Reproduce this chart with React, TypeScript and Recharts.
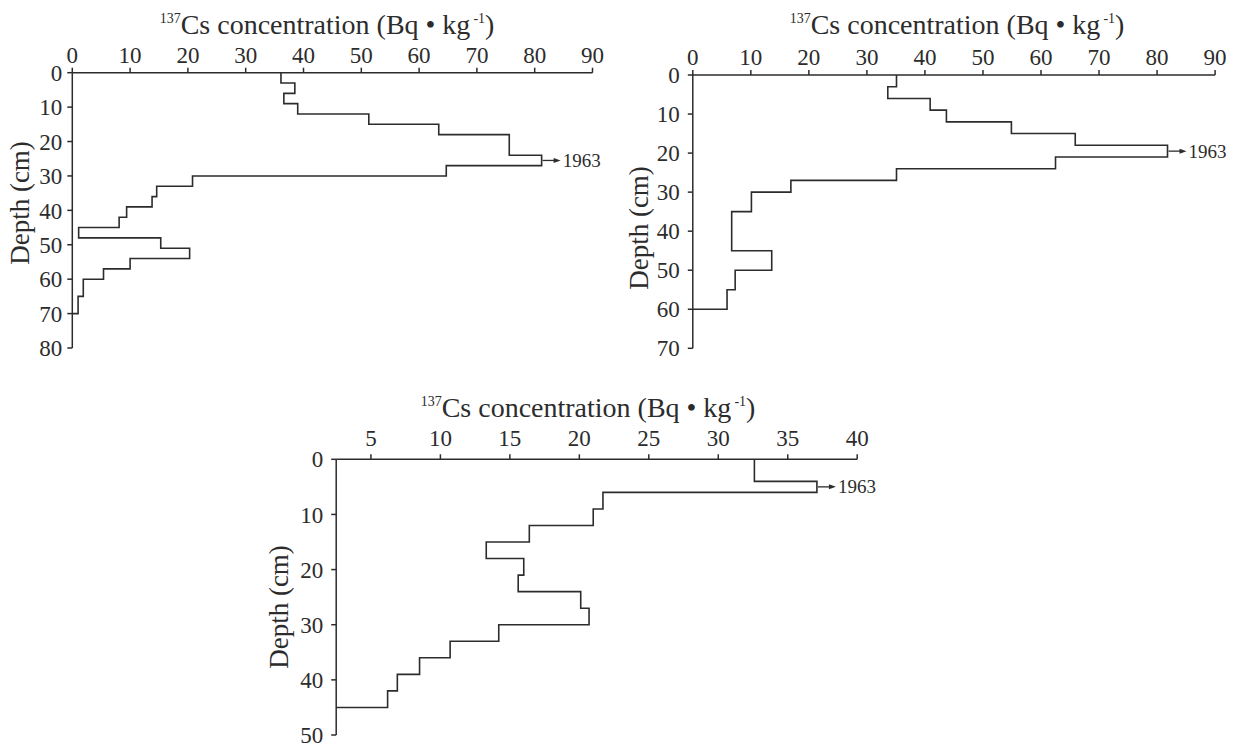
import React from 'react';
import { LineChart, Line, XAxis, YAxis, ReferenceDot } from 'recharts';

// core A: depth interval boundaries (cm) and 137Cs per interval (Bq/kg)
const depthA = [0, 3, 6, 9, 12, 15, 18, 24, 27, 30, 33, 36, 39, 42, 45, 48, 51, 54, 57, 60, 65, 70];
const concA = [36.1, 38.5, 36.6, 39.0, 51.3, 63.4, 75.6, 81.2, 64.7, 20.8, 14.6, 13.8, 9.4, 8.1, 1.1, 15.3, 20.3, 10.0, 5.4, 1.9, 1.0];
const floorA = 0;
const xTicksA = [0, 10, 20, 30, 40, 50, 60, 70, 80, 90];
const yTicksA = [0, 10, 20, 30, 40, 50, 60, 70, 80];

// core B
const depthB = [0, 3, 6, 9, 12, 15, 18, 21, 24, 27, 30, 35, 45, 50, 55, 60];
const concB = [35.1, 33.6, 40.9, 43.7, 54.9, 65.9, 81.8, 62.5, 35.1, 16.9, 10.1, 6.7, 13.6, 7.3, 5.9];
const floorB = 0;
const xTicksB = [0, 10, 20, 30, 40, 50, 60, 70, 80, 90];
const yTicksB = [0, 10, 20, 30, 40, 50, 60, 70];

// core C
const depthC = [0, 4, 6, 9, 12, 15, 18, 21, 24, 27, 30, 33, 36, 39, 42, 45];
const concC = [32.6, 37.1, 21.7, 21.0, 16.4, 13.3, 16.0, 15.6, 20.1, 20.7, 14.2, 10.7, 8.5, 6.9, 6.2];
const floorC = 2.5;
const xTicksC = [5, 10, 15, 20, 25, 30, 35, 40];
const yTicksC = [0, 10, 20, 30, 40, 50];

const markerYear = '1963';
const depthTitle = 'Depth (cm)';

const INK = '#2c2c2c';
const FONT = '"Liberation Serif", "Times New Roman", serif';
const AXIS_H = 40;
const AXIS_W = 40;

// turn interval values into a stepped depth profile
function toProfile(depths: number[], conc: number[], floor: number) {
    const pts: { c: number; d: number }[] = [];
    conc.forEach((v, i) => {
        pts.push({ c: v, d: depths[i] });
        pts.push({ c: v, d: depths[i + 1] });
    });
    pts.push({ c: floor, d: depths[depths.length - 1] });
    return pts;
}

const TitleText = ({ x, y }: { x: number; y: number }) => (
    <text x={x} y={y} textAnchor="middle" fontSize={28} fill={INK} fontFamily={FONT}>
        <tspan fontSize={14} dy={-11}>137</tspan>
        <tspan dy={11}>Cs concentration (Bq • kg</tspan>
        <tspan fontSize={14} dx={3} dy={-11}>-1</tspan>
        <tspan dy={11}>)</tspan>
    </text>
);

interface Box { left: number; top: number; width: number; height: number }
interface Plot { left: number; right: number; top: number; bottom: number }

interface PanelProps {
    depths: number[];
    conc: number[];
    floor: number;
    xDomain: [number, number];
    xTicks: number[];
    yTicks: number[];
    box: Box;
    plot: Plot;
    title: { x: number; y: number };
    ylab: { x: number; y: number };
    xTickGap: number;
    yTickGap: number;
}

function ProfilePanel({ depths, conc, floor, xDomain, xTicks, yTicks, box, plot, title, ylab, xTickGap, yTickGap }: PanelProps) {
    const data = toProfile(depths, conc, floor);
    const peak = Math.max(...conc);
    const pi = conc.indexOf(peak);
    const peakDepth = (depths[pi] + depths[pi + 1]) / 2;

    const margin = {
        top: plot.top - box.top - AXIS_H,
        left: plot.left - box.left - AXIS_W,
        right: box.left + box.width - plot.right,
        bottom: box.top + box.height - plot.bottom,
    };

    return (
        <div style={{ position: 'absolute', left: box.left, top: box.top }}>
            <LineChart width={box.width} height={box.height} data={data} layout="vertical" margin={margin} style={{ fontFamily: FONT }}>
                <XAxis
                    type="number"
                    orientation="top"
                    domain={xDomain}
                    ticks={xTicks}
                    interval={0}
                    height={AXIS_H}
                    tickSize={5}
                    tickMargin={xTickGap}
                    axisLine={{ stroke: INK, strokeWidth: 1.5 }}
                    tickLine={{ stroke: INK, strokeWidth: 1.5 }}
                    tick={{ fill: INK, fontSize: 23, fontFamily: FONT }}
                    label={() => <TitleText x={title.x - box.left} y={title.y - box.top} />}
                />
                <YAxis
                    type="number"
                    dataKey="d"
                    domain={[0, yTicks[yTicks.length - 1]]}
                    ticks={yTicks}
                    interval={0}
                    width={AXIS_W}
                    tickSize={5}
                    tickMargin={yTickGap}
                    axisLine={{ stroke: INK, strokeWidth: 1.5 }}
                    tickLine={{ stroke: INK, strokeWidth: 1.5 }}
                    tick={{ fill: INK, fontSize: 23, fontFamily: FONT }}
                    label={() => (
                        <text
                            x={ylab.x - box.left}
                            y={ylab.y - box.top}
                            transform={`rotate(-90 ${ylab.x - box.left} ${ylab.y - box.top})`}
                            textAnchor="middle"
                            dominantBaseline="central"
                            fontSize={27}
                            fill={INK}
                            fontFamily={FONT}
                        >
                            {depthTitle}
                        </text>
                    )}
                />
                <Line
                    type="linear"
                    dataKey="c"
                    stroke={INK}
                    strokeWidth={1.6}
                    dot={false}
                    activeDot={false}
                    isAnimationActive={false}
                />
                <ReferenceDot
                    x={peak}
                    y={peakDepth}
                    ifOverflow="visible"
                    shape={(p: any) => (
                        <g>
                            <line x1={p.cx + 1} y1={p.cy} x2={p.cx + 14} y2={p.cy} stroke={INK} strokeWidth={1.3} />
                            <path d={`M${p.cx + 12},${p.cy - 2.5} L${p.cx + 19},${p.cy} L${p.cx + 12},${p.cy + 2.5} Z`} fill={INK} />
                            <text x={p.cx + 21} y={p.cy + 6.5} fontSize={19} fill={INK} fontFamily={FONT}>
                                {markerYear}
                            </text>
                        </g>
                    )}
                />
            </LineChart>
        </div>
    );
}

export default function App() {
    return (
        <div style={{ position: 'absolute', left: 0, top: 0, width: 1234, height: 745, background: '#fff' }}>
            <ProfilePanel
                depths={depthA}
                conc={concA}
                floor={floorA}
                xDomain={[0, 90]}
                xTicks={xTicksA}
                yTicks={yTicksA}
                box={{ left: 0, top: 0, width: 620, height: 360 }}
                plot={{ left: 72.3, right: 592.5, top: 72.7, bottom: 348 }}
                title={{ x: 327, y: 34 }}
                ylab={{ x: 20, y: 203 }}
                xTickGap={5}
                yTickGap={5}
            />
            <ProfilePanel
                depths={depthB}
                conc={concB}
                floor={floorB}
                xDomain={[0, 90]}
                xTicks={xTicksB}
                yTicks={yTicksB}
                box={{ left: 620, top: 0, width: 614, height: 360 }}
                plot={{ left: 692.8, right: 1215.1, top: 75, bottom: 348.3 }}
                title={{ x: 957, y: 34 }}
                ylab={{ x: 639, y: 228 }}
                xTickGap={5}
                yTickGap={8}
            />
            <ProfilePanel
                depths={depthC}
                conc={concC}
                floor={floorC}
                xDomain={[2.5, 40]}
                xTicks={xTicksC}
                yTicks={yTicksC}
                box={{ left: 250, top: 380, width: 650, height: 365 }}
                plot={{ left: 336.2, right: 857.2, top: 459.3, bottom: 735 }}
                title={{ x: 588, y: 417 }}
                ylab={{ x: 279, y: 607 }}
                xTickGap={8}
                yTickGap={8}
            />
        </div>
    );
}
